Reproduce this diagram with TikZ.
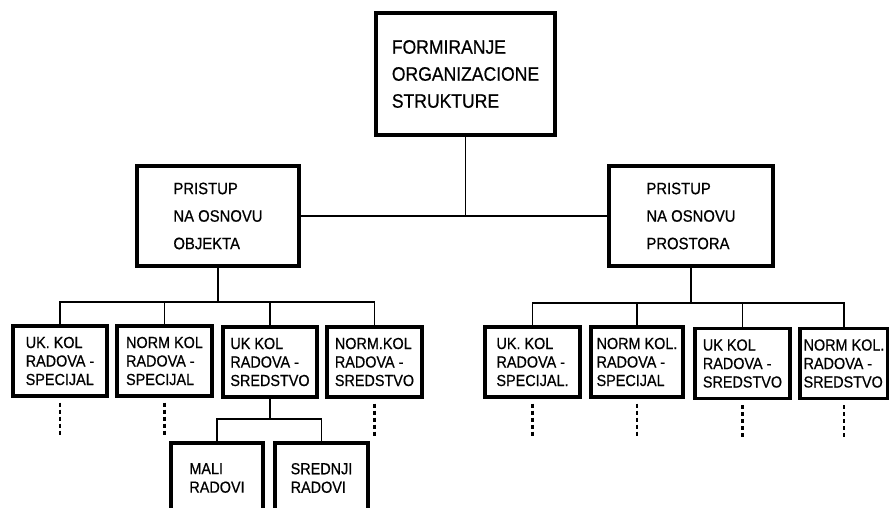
\documentclass[tikz,border=0pt]{standalone}
\usepackage{fontspec}
\setmainfont{Liberation Sans}[FakeStretch=0.9, FakeBold=0.6]
\begin{document}
\begin{tikzpicture}[x=1pt, y=-1pt,
  box/.style={draw, line width=3.4pt, align=left, inner sep=0pt},
  wire/.style={line width=1.9pt},
  trail/.style={line width=2.2pt, dash pattern=on 4pt off 3pt},
  bigtxt/.style={font=\fontsize{19.5}{27}\selectfont},
  midtxt/.style={font=\fontsize{16.5}{27.5}\selectfont},
  smalltxt/.style={font=\fontsize{16}{18.5}\selectfont},
  leaf/.style={box, smalltxt, minimum height=70pt}]
\useasboundingbox (0,0) rectangle (889,508);

% root
\node[box, bigtxt, minimum width=179pt, minimum height=122pt] (top) at (465.5,74)
  {FORMIRANJE\\ORGANIZACIONE\\STRUKTURE};

% two approaches
\node[box, midtxt, minimum width=162pt, minimum height=100pt] (objL) at (218,216)
  {PRISTUP\\NA OSNOVU\\OBJEKTA};
\node[box, midtxt, minimum width=164pt, minimum height=100pt] (objR) at (691,216)
  {PRISTUP\\NA OSNOVU\\PROSTORA};

% leaves under the object approach
\node[leaf, minimum width=94pt] (b1) at (60,361)    {UK. KOL\\RADOVA -\\SPECIJAL};
\node[leaf, minimum width=95pt] (b2) at (164.5,361) {NORM KOL\\RADOVA -\\SPECIJAL};
\node[leaf, minimum width=94pt] (b3) at (270,362)   {UK KOL\\RADOVA -\\SREDSTVO};
\node[leaf, minimum width=95pt] (b4) at (374.5,362) {NORM.KOL\\RADOVA -\\SREDSTVO};

% leaves under the space approach
\node[leaf, minimum width=95pt] (b5) at (532.5,362) {UK. KOL\\RADOVA -\\SPECIJAL.};
\node[leaf, minimum width=92pt] (b6) at (637,362)   {NORM KOL.\\RADOVA -\\SPECIJAL};
\node[leaf, minimum width=95pt] (b7) at (742.5,363.5) {UK KOL\\RADOVA -\\SREDSTVO};
\node[leaf, minimum width=88pt] (b8) at (844,363.5) {NORM KOL.\\RADOVA -\\SREDSTVO};

% third level
\node[leaf, minimum width=92pt] (mali) at (217,478)   {MALI\\RADOVI};
\node[leaf, minimum width=93pt] (sred) at (321.5,478) {SREDNJI\\RADOVI};

% root to the two approaches
\draw[wire] (top.south) -- (top.south |- objL.east);
\draw[wire] (objL.east) -- (objR.west);

% object approach bus
\coordinate (busL) at (218,302);
\draw[wire] (objL.south) -- (busL);
\draw[wire] (b1.north) |- (busL) -| (b4.north);
\draw[wire] (b2.north) -- (b2.north |- busL);
\draw[wire] (b3.north) -- (b3.north |- busL);

% space approach bus
\coordinate (busR) at (691,303);
\draw[wire] (objR.south) -- (busR);
\draw[wire] (b5.north) |- (busR) -| (b8.north);
\draw[wire] (b6.north) -- (b6.north |- busR);
\draw[wire] (b7.north) -- (b7.north |- busR);

% split of the third leaf
\coordinate (busS) at (270,419);
\draw[wire] (b3.south) -- (busS);
\draw[wire] (mali.north) |- (busS) -| (sred.north);

% continuation marks
\foreach \b in {b1,b2,b4,b5,b6,b7,b8}
  \draw[trail] ([yshift=-5pt]\b.south) -- ++(0,34);
\end{tikzpicture}
\end{document}
